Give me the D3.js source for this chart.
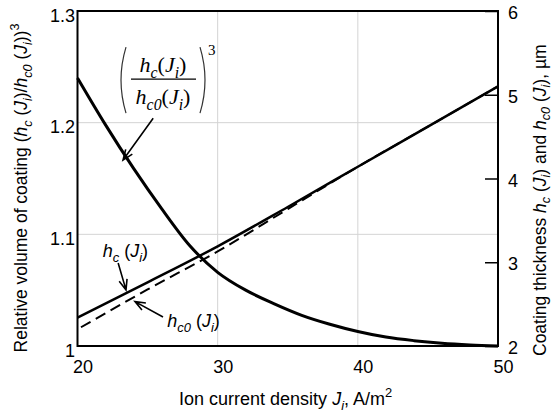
<!DOCTYPE html>
<html>
<head>
<meta charset="utf-8">
<script src="https://cdn.jsdelivr.net/npm/d3@7"></script>
<style>
  body { margin: 0; background: #fff; }
  text { font-family: "Liberation Sans", Arial, sans-serif; fill: #000; }
</style>
</head>
<body>
<div class="canva"></div>
<script>
// ion current density, A/m^2
const ratioJ = [20, 22, 24, 26, 28, 30, 32, 34, 36, 38, 40, 42, 44, 46, 48, 50];
// (hc/hc0)^3, left axis
const ratioVals = [1.240, 1.198, 1.159, 1.123, 1.090, 1.066, 1.050, 1.038, 1.0275, 1.0195, 1.013, 1.008, 1.0048, 1.0025, 1.001, 1.000];

const thickJ = [20, 25, 30, 35, 40, 45, 50];
const hcVals = [2.34, 2.76, 3.19, 3.66, 4.14, 4.62, 5.10];   // solid, right axis
const hc0Vals = [2.20, 2.675, 3.13, 3.635, 4.14, 4.62, 5.10]; // dashed, right axis

const xTicks = [20, 30, 40, 50];
const yLeftTicks = [1, 1.1, 1.2, 1.3];
const yRightTicks = [2, 3, 4, 5, 6];
const xGrid = [30, 40];
const yGrid = [1.1, 1.2];

const svg = d3.select(".canva").append("svg")
    .attr("width", 554)
    .attr("height", 412);

const x = d3.scaleLinear().domain([20, 50]).range([77.5, 498]);
const yL = d3.scaleLinear().domain([1, 1.3]).range([346, 11]);
const yR = d3.scaleLinear().domain([2, 6]).range([346, 11]);

// grid
svg.selectAll(".gx").data(xGrid).enter().append("line")
    .attr("x1", d => x(d)).attr("x2", d => x(d))
    .attr("y1", yL(1.3)).attr("y2", yL(1))
    .attr("stroke", "#d4d4d4").attr("stroke-width", 1);
svg.selectAll(".gy").data(yGrid).enter().append("line")
    .attr("x1", x(20)).attr("x2", x(50))
    .attr("y1", d => yL(d)).attr("y2", d => yL(d))
    .attr("stroke", "#d4d4d4").attr("stroke-width", 1);

// axes
const fs = 18;
const xAxisG = svg.append("g")
    .attr("transform", `translate(0, ${yL(1)})`)
    .call(d3.axisBottom(x).tickValues(xTicks).tickSize(0).tickPadding(14));
const yLAxisG = svg.append("g")
    .attr("transform", `translate(${x(20)}, 0)`)
    .call(d3.axisLeft(yL).tickValues(yLeftTicks).tickSize(0).tickPadding(2.5).tickFormat(d => d));
const yRAxisG = svg.append("g")
    .attr("transform", `translate(${x(50)}, 0)`)
    .call(d3.axisRight(yR).tickValues(yRightTicks).tickSizeInner(-13).tickSizeOuter(0)
        .tickPadding(10).tickFormat(d => d));

[xAxisG, yLAxisG, yRAxisG].forEach(g => {
    g.select(".domain").remove();
    g.selectAll("text")
        .style("font-family", "'Liberation Sans', Arial, sans-serif")
        .style("font-size", fs + "px")
        .attr("fill", "#000");
});
xAxisG.selectAll("text").attr("dx", 5);
yLAxisG.selectAll("text").attr("dy", "0.57em");
yRAxisG.selectAll("text").attr("dy", "0.42em");
yRAxisG.selectAll("line").attr("stroke", "#000").attr("stroke-width", 1.5);

// frame
svg.append("rect")
    .attr("x", x(20)).attr("y", yL(1.3))
    .attr("width", x(50) - x(20)).attr("height", yL(1) - yL(1.3))
    .attr("fill", "none").attr("stroke", "#000").attr("stroke-width", 2);

// lines
const thickLine = vals => d3.line()
    .x((d, i) => x(thickJ[i]))
    .y(d => yR(d))
    .curve(d3.curveMonotoneX)(vals);

svg.append("path")
    .attr("d", thickLine(hc0Vals))
    .attr("fill", "none").attr("stroke", "#000")
    .attr("stroke-width", 2).attr("stroke-dasharray", "11,6")
    .attr("stroke-dashoffset", -4);

svg.append("path")
    .attr("d", thickLine(hcVals))
    .attr("fill", "none").attr("stroke", "#000").attr("stroke-width", 2.5);

const ratioLine = d3.line()
    .x((d, i) => x(ratioJ[i]))
    .y(d => yL(d))
    .curve(d3.curveMonotoneX);

svg.append("path")
    .datum(ratioVals)
    .attr("d", ratioLine)
    .attr("fill", "none").attr("stroke", "#000").attr("stroke-width", 3);

// rich text helper: parts = [[text, style]], style n | i | sub | sup
function rich(sel, parts, size, subShift = 0.28) {
    let shift = 0;
    parts.forEach(([t, s]) => {
        const target = s === "sub" ? size * subShift : s === "sup" ? -size * 0.45 : 0;
        const ts = sel.append("tspan").text(t).attr("dy", target - shift);
        shift = target;
        if (s === "sub" || s === "sup") ts.style("font-size", (size * 0.72) + "px");
        if (s === "i" || s === "sub") ts.style("font-style", "italic");
    });
    return sel;
}

// axis titles
rich(svg.append("text")
    .attr("transform", `translate(${x(34.85)}, 405)`)
    .attr("text-anchor", "middle")
    .style("font-size", fs + "px"),
    [["Ion current density ", "n"], ["J", "i"], ["i", "sub"], [", A/m", "n"], ["2", "sup"]], fs);

rich(svg.append("text")
    .attr("transform", "translate(27, 188) rotate(-90)")
    .attr("text-anchor", "middle")
    .style("font-size", "17.5px"),
    [["Relative volume of coating (", "n"], ["h", "i"], ["c", "sub"], [" (", "n"], ["J", "i"], ["i", "sub"],
     [")/", "n"], ["h", "i"], ["c0", "sub"], [" (", "n"], ["J", "i"], ["i", "sub"], ["))", "n"], ["3", "sup"]], 17.5);

rich(svg.append("text")
    .attr("transform", "translate(546, 356) rotate(-90)")
    .attr("text-anchor", "start")
    .style("font-size", "17.5px"),
    [["Coating thickness ", "n"], ["h", "i"], ["c", "sub"], [" (", "n"], ["J", "i"], ["i", "sub"],
     [")  and  ", "n"], ["h", "i"], ["c0", "sub"], [" (", "n"], ["J", "i"], ["i", "sub"], ["), µm", "n"]], 17.5, 0.2);

// arrows
function arrow(x1, y1, x2, y2) {
    const a = Math.atan2(y2 - y1, x2 - x1), len = 11, sp = 0.38;
    const p = d3.path();
    p.moveTo(x1, y1); p.lineTo(x2, y2);
    p.moveTo(x2 - len * Math.cos(a - sp), y2 - len * Math.sin(a - sp));
    p.lineTo(x2, y2);
    p.lineTo(x2 - len * Math.cos(a + sp), y2 - len * Math.sin(a + sp));
    svg.append("path").attr("d", p.toString())
        .attr("fill", "none").attr("stroke", "#000").attr("stroke-width", 1.6);
}

// formula annotation
const fx = x(26.1), fy = yL(1.239);
const serif = "'Liberation Serif', 'Times New Roman', serif";
const fsz = 22;
rich(svg.append("text").attr("x", fx).attr("y", fy - 7).attr("text-anchor", "middle")
    .style("font-family", serif).style("font-size", fsz + "px"),
    [["h", "i"], ["c", "sub"], ["(", "n"], ["J", "i"], ["i", "sub"], [")", "n"]], fsz);
rich(svg.append("text").attr("x", fx).attr("y", fy + 25).attr("text-anchor", "middle")
    .style("font-family", serif).style("font-size", fsz + "px"),
    [["h", "i"], ["c0", "sub"], ["(", "n"], ["J", "i"], ["i", "sub"], [")", "n"]], fsz);
svg.append("line")
    .attr("x1", fx - 32).attr("x2", fx + 33).attr("y1", fy).attr("y2", fy)
    .attr("stroke", "#000").attr("stroke-width", 1.2);
[-1, 1].forEach(s => {
    svg.append("path")
        .attr("d", `M${fx + s * 37},${fy - 32} Q${fx + s * 47},${fy + 1} ${fx + s * 37},${fy + 34}`)
        .attr("fill", "none").attr("stroke", "#333").attr("stroke-width", 1.2);
});
svg.append("text").attr("x", fx + 45).attr("y", fy - 24)
    .style("font-family", serif).style("font-size", "15px").text("3");
arrow(x(25.4), yL(1.204), x(23.25), yL(1.1665));

// hc label
rich(svg.append("text").attr("x", x(21.8)).attr("y", yR(3.06))
    .style("font-size", "18px"),
    [["h", "i"], ["c", "sub"], [" (", "n"], ["J", "i"], ["i", "sub"], [")", "n"]], 18);
arrow(x(22.9), yR(2.99), x(23.46), yR(2.67));

// hc0 label
rich(svg.append("text").attr("x", x(26.4)).attr("y", yR(2.23))
    .style("font-size", "18px"),
    [["h", "i"], ["c0", "sub"], [" (", "n"], ["J", "i"], ["i", "sub"], [")", "n"]], 18);
arrow(x(26.1), yR(2.346), x(24.1), yR(2.53));
</script>
</body>
</html>
